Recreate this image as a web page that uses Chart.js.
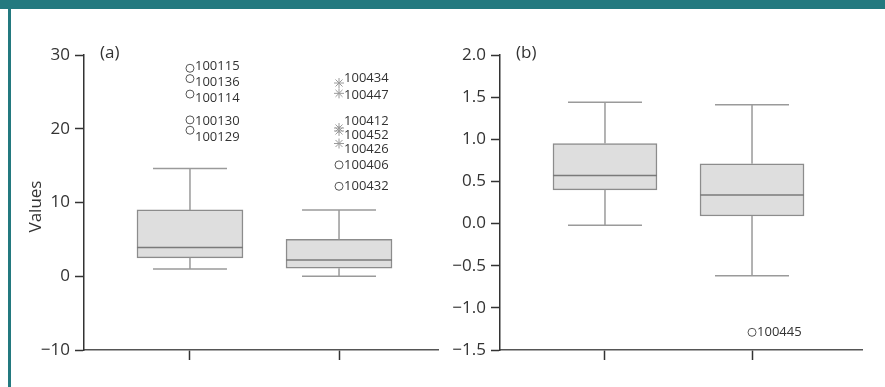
<!DOCTYPE html>
<html>
<head>
<meta charset="utf-8">
<script src="https://cdn.jsdelivr.net/npm/chart.js@4.4.1/dist/chart.umd.min.js"></script>
<style>
    body { margin: 0; background: #fff; width: 885px; height: 387px; overflow: hidden; position: relative; font-family: "Open Sans", sans-serif; }
    #band { position: absolute; left: 0; top: 0; width: 885px; height: 9px; background: #23797f; }
    #side { position: absolute; left: 8px; top: 9px; width: 3px; height: 378px; background: #23797f; }
    #wa { position: absolute; left: 0; top: 0; width: 445px; height: 387px; }
    #wb { position: absolute; left: 445px; top: 0; width: 440px; height: 387px; }
</style>
</head>
<body>
<div id="band"></div>
<div id="side"></div>
<div id="wa"><canvas id="chartA" width="445" height="387"></canvas></div>
<div id="wb"><canvas id="chartB" width="440" height="387"></canvas></div>
<script>
// group positions on the x axis
const groups = [1, 2];

// panel (a)
const aQ1 = [2.5, 1.1];
const aMedian = [3.9, 2.2];
const aQ3 = [9.0, 5.0];
const aLow = [1.0, 0.0];
const aHigh = [14.6, 9.0];
const aOutIds = ['100115', '100136', '100114', '100130', '100129',
                 '100434', '100447', '100412', '100452', '100426', '100406', '100432'];
const aOutValues = [28.2, 26.8, 24.7, 21.2, 19.8, 26.2, 24.8, 20.1, 19.7, 18.0, 15.1, 12.2];
const aOutGroup = [1, 1, 1, 1, 1, 2, 2, 2, 2, 2, 2, 2];
const aOutKind = ['o', 'o', 'o', 'o', 'o', '*', '*', '*', '*', '*', 'o', 'o'];
const aTicks = [-10, 0, 10, 20, 30];

// panel (b)
const bQ1 = [0.40, 0.09];
const bMedian = [0.57, 0.34];
const bQ3 = [0.95, 0.71];
const bLow = [-0.02, -0.62];
const bHigh = [1.44, 1.41];
const bOutIds = ['100445'];
const bOutValues = [-1.29];
const bOutGroup = [2];
const bOutKind = ['o'];
const bTicks = [-1.5, -1.0, -0.5, 0.0, 0.5, 1.0, 1.5, 2.0];

const INK = '#333';
const minus = s => s.replace('-', '\u2212');

const boxPlugin = {
    id: 'boxParts',
    afterDatasetsDraw(chart, args, opts) {
        const ctx = chart.ctx;
        const xs = chart.scales.x, ys = chart.scales.y;
        const st = opts.stats;
        ctx.save();
        ctx.lineWidth = 1.5;
        groups.forEach((g, i) => {
            const x = xs.getPixelForValue(g);
            const yq1 = ys.getPixelForValue(st.q1[i]);
            const yq3 = ys.getPixelForValue(st.q3[i]);
            const ylo = ys.getPixelForValue(st.low[i]);
            const yhi = ys.getPixelForValue(st.high[i]);
            const ymed = ys.getPixelForValue(st.median[i]);
            ctx.strokeStyle = '#9a9a9a';
            ctx.beginPath();
            ctx.moveTo(x, yq3); ctx.lineTo(x, yhi);
            ctx.moveTo(x - opts.cap, yhi); ctx.lineTo(x + opts.cap, yhi);
            ctx.moveTo(x, yq1); ctx.lineTo(x, ylo);
            ctx.moveTo(x - opts.cap, ylo); ctx.lineTo(x + opts.cap, ylo);
            ctx.stroke();
            ctx.strokeStyle = '#7a7a7a';
            ctx.beginPath();
            ctx.moveTo(x - opts.half, ymed); ctx.lineTo(x + opts.half, ymed);
            ctx.stroke();
        });

        // outlier labels
        ctx.fillStyle = INK;
        ctx.font = '13px "Open Sans"';
        ctx.textAlign = 'left';
        ctx.textBaseline = 'middle';
        const o = opts.out;
        o.ids.forEach((id, i) => {
            const x = xs.getPixelForValue(o.group[i]);
            const y = ys.getPixelForValue(o.values[i]);
            ctx.fillText(id, x + 5, y + (opts.nudge[i] || 0));
        });

        // panel letter and axis title
        ctx.font = '17px "Open Sans"';
        ctx.fillText(opts.letter, chart.chartArea.left + 16, 53);
        if (opts.title) {
            ctx.translate(36, (chart.chartArea.top + chart.chartArea.bottom) / 2 + 4);
            ctx.rotate(-Math.PI / 2);
            ctx.textAlign = 'center';
            ctx.fillText(opts.title, 0, 0);
        }
        ctx.restore();
    }
};

function makeChart(id, cfg) {
    const boxData = groups.map((g, i) => ({ x: g, y: [cfg.q1[i], cfg.q3[i]] }));
    const circles = [], stars = [];
    cfg.out.ids.forEach((oid, i) => {
        const p = { x: cfg.out.group[i], y: cfg.out.values[i] };
        (cfg.out.kind[i] === '*' ? stars : circles).push(p);
    });
    return new Chart(document.getElementById(id), {
        type: 'bar',
        data: {
            datasets: [
                {
                    data: boxData,
                    backgroundColor: '#dedede',
                    borderColor: '#8c8c8c',
                    borderWidth: 1.5,
                    borderSkipped: false,
                    barThickness: cfg.barW
                },
                {
                    type: 'scatter',
                    data: circles,
                    pointStyle: 'circle',
                    pointRadius: 4,
                    borderColor: '#555',
                    backgroundColor: 'rgba(255,255,255,0)',
                    borderWidth: 1
                },
                {
                    type: 'scatter',
                    data: stars,
                    pointStyle: 'star',
                    pointRadius: 5,
                    borderColor: '#9a9a9a',
                    borderWidth: 1
                }
            ]
        },
        options: {
            responsive: false,
            animation: false,
            layout: { padding: { left: 0, top: 55, right: cfg.padRight, bottom: 0 } },
            plugins: {
                legend: { display: false },
                tooltip: { enabled: false },
                boxParts: {
                    stats: cfg,
                    out: cfg.out,
                    cap: 37,
                    half: cfg.barW / 2,
                    nudge: cfg.nudge,
                    letter: cfg.letter,
                    title: cfg.title
                }
            },
            scales: {
                x: {
                    type: 'linear',
                    offset: false,
                    min: cfg.xMin,
                    max: cfg.xMax,
                    afterBuildTicks: s => { s.ticks = groups.map(v => ({ value: v })); },
                    afterFit: s => { s.height = 37; },
                    ticks: { callback: () => '' },
                    grid: { offset: false, drawOnChartArea: false, tickLength: 10, color: INK, tickWidth: 1.5 },
                    border: { display: true, color: '#555', width: 1.5 }
                },
                y: {
                    min: cfg.yTicks[0],
                    max: cfg.yTicks[cfg.yTicks.length - 1],
                    afterBuildTicks: s => { s.ticks = cfg.yTicks.map(v => ({ value: v })); },
                    afterFit: s => { s.width = cfg.yW; },
                    ticks: {
                        color: INK,
                        padding: 5,
                        font: { family: '"Open Sans"', size: 17 },
                        callback: v => minus(cfg.fmt(v))
                    },
                    grid: { drawOnChartArea: false, tickLength: 9, color: INK, tickWidth: 1.5 },
                    border: { display: true, color: INK, width: 1.5 }
                }
            }
        },
        plugins: [boxPlugin]
    });
}

makeChart('chartA', {
    q1: aQ1, median: aMedian, q3: aQ3, low: aLow, high: aHigh,
    out: { ids: aOutIds, values: aOutValues, group: aOutGroup, kind: aOutKind },
    nudge: [-2, 4, 4, 1, 7, -5, 2, -7, 4, 6, 0, 0],
    yTicks: aTicks, fmt: v => String(v),
    xMin: 0.289, xMax: 2.664, barW: 106, yW: 84, padRight: 7,
    letter: '(a)', title: 'Values'
});

makeChart('chartB', {
    q1: bQ1, median: bMedian, q3: bQ3, low: bLow, high: bHigh,
    out: { ids: bOutIds, values: bOutValues, group: bOutGroup, kind: bOutKind },
    nudge: [0],
    yTicks: bTicks, fmt: v => v.toFixed(1),
    xMin: 0.286, xMax: 2.748, barW: 104, yW: 55, padRight: 23,
    letter: '(b)', title: ''
});
</script>
</body>
</html>
